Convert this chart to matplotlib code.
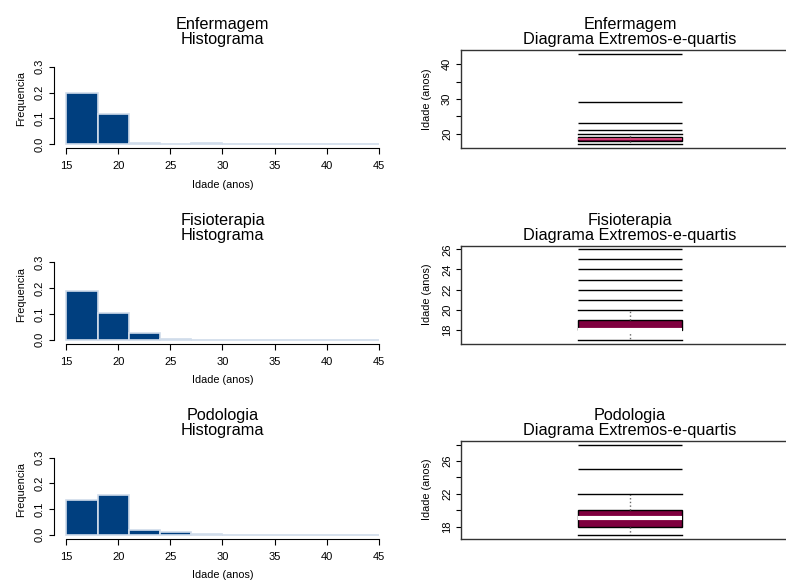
import numpy as np
import matplotlib
matplotlib.use("Agg")
import matplotlib.pyplot as plt

plt.rcParams['font.family'] = ['Liberation Sans', 'DejaVu Sans']

cursos = ["Enfermagem", "Fisioterapia", "Podologia"]

# histogram, bins of 3 years (density)
bin_edges = [15, 18, 21, 24, 27, 30, 33, 36, 39, 42, 45]
dens_enf = [0.198, 0.118, 0.004, 0.0, 0.004, 0.0, 0.0, 0.0, 0.0, 0.002]
dens_fis = [0.190, 0.102, 0.027, 0.005, 0.0, 0.0, 0.0, 0.0, 0.0, 0.0]
dens_pod = [0.137, 0.156, 0.019, 0.011, 0.004, 0.0, 0.0, 0.0, 0.0, 0.0]
densidades = [dens_enf, dens_fis, dens_pod]

# box plot summaries (idade em anos)
q1 = [18, 18, 18]
mediana = [18.5, 18, 19]
q3 = [19, 19, 20]
bigode_inf = [17, 17, 17]
bigode_sup = [20, 20, 22]
out_enf = [21, 23, 29, 43]
out_fis = [21, 22, 23, 24, 25, 26]
out_pod = [25, 28]
outliers = [out_enf, out_fis, out_pod]

# y ticks of the box plots (labels R left out are blank)
yticks_box = [[20, 25, 30, 35, 40], [18, 20, 22, 24, 26], [18, 20, 22, 24, 26, 28]]
ylabels_box = [["20", "", "30", "", "40"], ["18", "20", "22", "24", "26"],
               ["18", "", "22", "", "26", ""]]

W, H = 786, 580
fig = plt.figure(figsize=(W / 100, H / 100), dpi=100)

row_top = [50, 245.7, 441]
row_bot = [148, 343.5, 538.5]

azul = '#003f7f'
bordo = '#7f003f'
fs_tit = 11.7
fs_tick = 8
fs_lab = 7.8


def hist_panel(i):
    b = 1 - row_bot[i] / H
    h = (row_bot[i] - row_top[i]) / H
    ax = fig.add_axes([54 / W, b, 337 / W, h])
    ax.bar(bin_edges[:-1], densidades[i], width=np.diff(bin_edges), align='edge',
           color=azul, edgecolor='#d0dcea', linewidth=1.2)
    ax.set_xlim(13.8, 46.2)
    ax.set_ylim(-0.0143, 0.3645)
    ax.spines['top'].set_visible(False)
    ax.spines['right'].set_visible(False)
    ax.spines['left'].set_bounds(0, 0.3)
    ax.spines['bottom'].set_bounds(15, 45)
    ax.set_xticks([15, 20, 25, 30, 35, 40, 45])
    ax.set_yticks([0.0, 0.1, 0.2, 0.3])
    ax.set_yticklabels(["0.0", "0.1", "0.2", "0.3"], rotation=90, va='center')
    ax.tick_params(axis='x', length=4, width=0.8, pad=5.5, labelsize=fs_tick)
    ax.tick_params(axis='y', length=3.5, width=0.8, pad=3.2, labelsize=fs_tick)
    ax.set_xlabel("Idade (anos)", fontsize=fs_lab, labelpad=6)
    ax.set_ylabel("Frequencia", fontsize=fs_lab, labelpad=6.5)
    ax.set_title(cursos[i] + "\nHistograma", fontsize=fs_tit, pad=4, linespacing=1.0)


def box_panel(i):
    b = 1 - row_bot[i] / H
    h = (row_bot[i] - row_top[i]) / H
    ax = fig.add_axes([461 / W, b, 338 / W, h])
    stats = [dict(med=mediana[i], q1=q1[i], q3=q3[i],
                  whislo=bigode_inf[i], whishi=bigode_sup[i], fliers=[])]
    larg = 0.31
    bp = ax.bxp(stats, positions=[1], widths=larg, capwidths=larg,
                patch_artist=True, showfliers=False,
                boxprops=dict(facecolor=bordo, edgecolor='black', linewidth=1),
                medianprops=dict(color='white', linewidth=3),
                whiskerprops=dict(color='#666666', linestyle=':', linewidth=1),
                capprops=dict(color='black', linewidth=1))
    if i == 0:
        bp['medians'][0].set_linewidth(1.2)
        bp['medians'][0].set_color('#e05080')
    ax.hlines(outliers[i], 1 - larg / 2, 1 + larg / 2, color='black', linewidth=1)
    todos = [bigode_inf[i], bigode_sup[i]] + outliers[i]
    lo, hi = min(todos), max(todos)
    ext = 0.04 * (hi - lo)
    ax.set_ylim(lo - ext, hi + ext)
    ax.set_xlim(0.5, 1.5)
    ax.set_xticks([])
    ax.set_yticks(yticks_box[i])
    ax.set_yticklabels(ylabels_box[i], rotation=90, va='center')
    ax.tick_params(axis='y', length=3.5, width=0.8, pad=3, labelsize=fs_tick)
    for s in ax.spines.values():
        s.set_color('#333333')
        s.set_linewidth(1)
    ax.set_ylabel("Idade (anos)", fontsize=fs_lab, labelpad=7)
    ax.set_title(cursos[i] + "\nDiagrama Extremos-e-quartis", fontsize=fs_tit,
                 pad=4, linespacing=1.0)


for i in range(3):
    hist_panel(i)
    box_panel(i)

fig.savefig("out.png", dpi=100)
